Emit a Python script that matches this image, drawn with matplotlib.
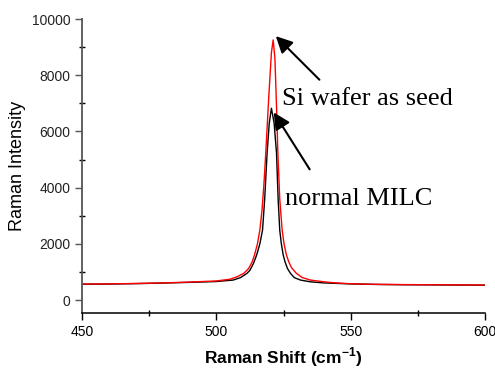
import matplotlib
matplotlib.use("Agg")
import matplotlib.pyplot as plt
from matplotlib.ticker import MultipleLocator

# Raman spectra
shift_seed = [450, 460, 470, 480, 490, 500, 505, 507.5, 510.2, 512, 513.3, 514.2, 515.3,
              516.2, 517, 517.7, 518.4, 519.5, 520.5, 521.15, 521.8, 522.4, 522.9, 523.6,
              524.5, 525.2, 526.1, 527, 528, 529.8, 532, 535, 540, 543.6, 550, 560, 570,
              580, 590, 600]
int_seed = [570, 575, 590, 610, 640, 680, 740, 820, 950, 1120, 1350, 1600, 2000,
            2490, 3200, 4100, 5233, 7200, 8800, 9256, 8600, 6900, 5233, 3600,
            2490, 2000, 1600, 1350, 1150, 950, 800, 712, 650, 616, 580, 560, 550,
            545, 540, 535]

shift_milc = [450, 460, 470, 480, 490, 500, 506.3, 509, 511.4, 512.5, 513.8, 515.0,
              516.2, 517.2, 518.0, 518.9, 519.7, 520.5, 521.5, 522.4, 523.0, 523.6,
              524.2, 524.9, 525.6, 526.5, 527.6, 529, 531.3, 535, 540, 550, 560, 570,
              580, 590, 600]
int_milc = [565, 570, 585, 605, 630, 660, 712, 800, 950, 1060, 1300, 1600,
            2000, 2490, 3600, 5233, 6300, 6825, 6300, 5233, 3600, 2490,
            2000, 1600, 1350, 1120, 950, 800, 712, 650, 610, 575, 555, 545,
            540, 535, 530]

fig = plt.figure(figsize=(4.95, 3.71), dpi=100)
ax = fig.add_axes([82 / 495, 1 - 313 / 371, (485 - 82) / 495, (313 - 19) / 371])

ax.plot(shift_milc, int_milc, color="black", lw=1.0)
ax.plot(shift_seed, int_seed, color="red", lw=1.0)

ax.set_xlim(450, 600)
ax.set_ylim(-460, 10000)
ax.xaxis.set_major_locator(MultipleLocator(50))
ax.xaxis.set_minor_locator(MultipleLocator(25))
ax.yaxis.set_major_locator(MultipleLocator(2000))
ax.yaxis.set_minor_locator(MultipleLocator(1000))

for side in ("top", "right"):
    ax.spines[side].set_visible(False)
ax.spines["left"].set_color("#555555")
ax.spines["left"].set_linewidth(1.3)
ax.spines["bottom"].set_linewidth(1.1)

ax.tick_params(which="major", direction="out", length=5, width=1, labelsize=10)
ax.tick_params(which="minor", direction="inout", length=4, width=1)
ax.tick_params(axis="y", colors="#555555", labelcolor="#222222")

ax.set_xlabel("Raman Shift (cm$^{\\mathregular{-1}}$)", fontsize=12.5, fontweight="bold",
              family="Liberation Sans", labelpad=5)
ax.set_ylabel("Raman Intensity", fontsize=13, family="Liberation Sans", labelpad=4)
for lab in ax.get_xticklabels() + ax.get_yticklabels():
    lab.set_family("Liberation Sans")

arrow = dict(arrowstyle="-|>,head_length=1.0,head_width=0.5", color="black", lw=1.5)
ax.annotate("", xy=(521.4, 9460), xytext=(539.1, 7770), arrowprops=arrow)
ax.annotate("", xy=(520.8, 6760), xytext=(535.3, 4567), arrowprops=arrow)
ax.text(524.5, 6940, "Si wafer as seed", fontsize=19, family="Liberation Serif", va="baseline")
ax.text(525.7, 3380, "normal MILC", fontsize=19, family="Liberation Serif", va="baseline")

fig.savefig("out.png", dpi=100)
